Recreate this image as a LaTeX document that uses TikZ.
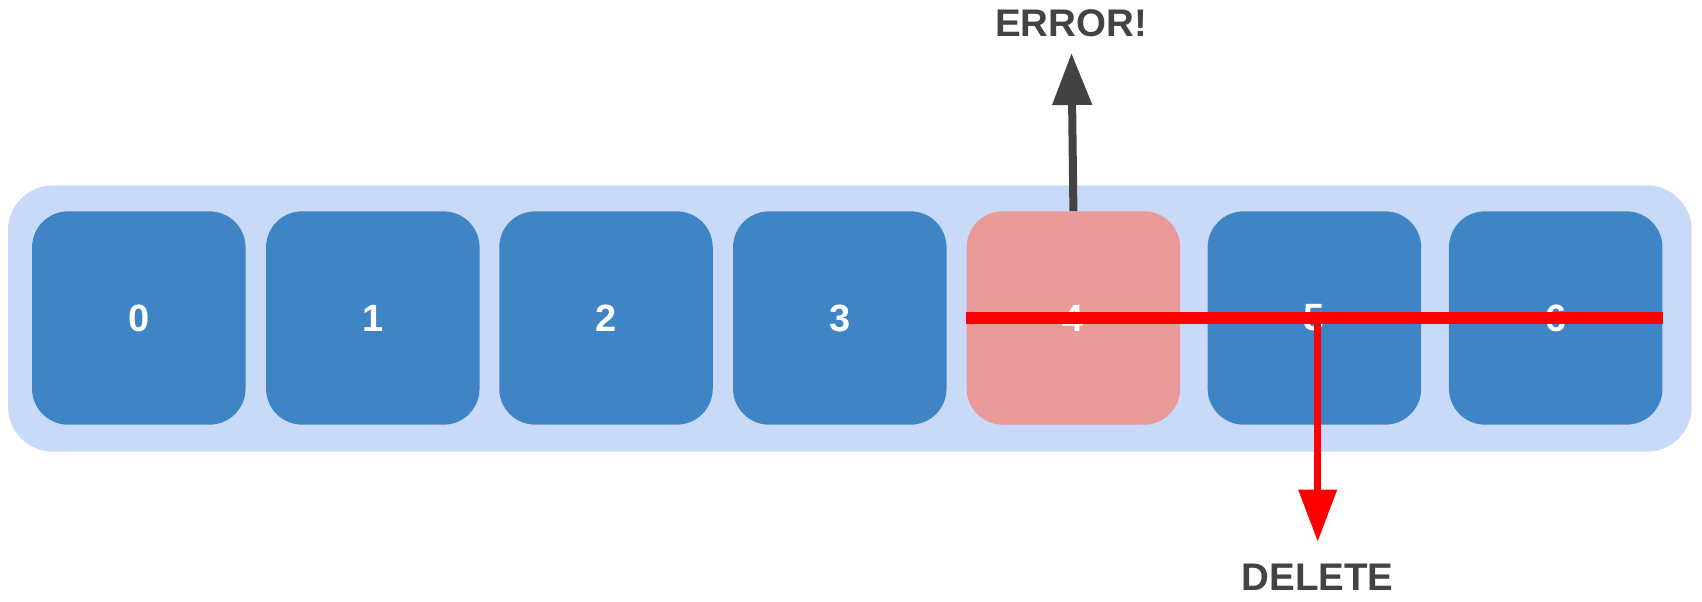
\documentclass[tikz,border=0pt]{standalone}
\usepackage{fontspec}
\setmainfont{Liberation Sans}
\usetikzlibrary{arrows.meta}
\definecolor{outerblue}{HTML}{C9DAF8}
\definecolor{cellblue}{HTML}{3F85C6}
\definecolor{cellpink}{HTML}{EA9999}
\definecolor{darkgray}{HTML}{434343}
\definecolor{pureRed}{HTML}{FF0000}
\tikzset{
  cell/.style={rectangle, rounded corners=36pt, minimum width=213.5pt, minimum height=213.3pt, inner sep=0pt, fill=cellblue, text=white, font=\fontsize{38}{40}\selectfont\bfseries},
  label/.style={text=darkgray, font=\fontsize{38.5}{40}\selectfont\bfseries, inner sep=0pt},
  errarrow/.style={draw=darkgray, line width=8pt, -{Triangle[length=52pt,width=38pt]}},
  delline/.style={draw=pureRed, line width=12pt},
  delarrow/.style={draw=pureRed, line width=7pt, -{Triangle[length=52pt,width=37pt]}}
}
\begin{document}
\begin{tikzpicture}[x=1pt,y=-1pt]
\useasboundingbox (0,0) rectangle (1702,602);
\fill[outerblue, rounded corners=45pt] (8,185.3) rectangle (1691.7,451.7);
\node[cell] (b0) at (138.8,318) {0};
\node[cell] (b1) at (372.8,318) {1};
\node[cell] (b2) at (606.0,318) {2};
\node[cell] (b3) at (839.8,318) {3};
\node[cell, fill=cellpink] (b4) at (1073.4,318) {4};
\node[cell] (b5) at (1314.4,318) {5};
\node[cell] (b6) at (1555.7,318) {6};
\node[label] (err) at (1071,23) {ERROR!};
\node[label] (del) at (1317.5,577) {DELETE};
\coordinate (errtip) at (1071.5,53);
\coordinate (split) at (1317.7,318);
\coordinate (deltip) at (1317.7,541.7);
\draw[errarrow] (b4.north) -- (errtip);
\draw[delline] (b4.west) -- (b6.east);
\draw[delarrow] (split) -- (deltip);
\end{tikzpicture}
\end{document}
